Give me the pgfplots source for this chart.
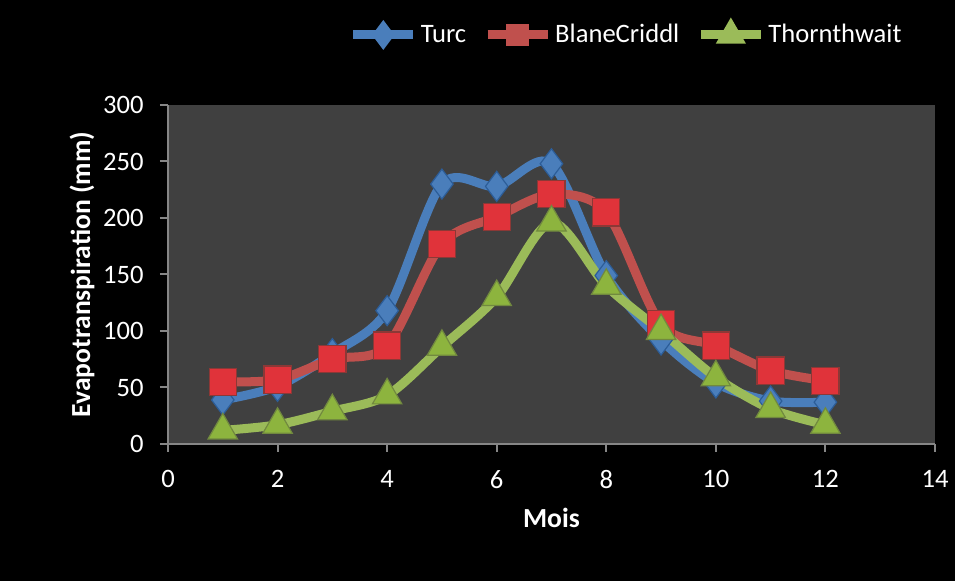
\documentclass[border=0pt]{standalone}
\usepackage{pgfplots}
\pgfplotsset{compat=1.18}
\usepackage{fontspec}
\setmainfont{Carlito}
\usetikzlibrary{plotmarks}

\definecolor{turc}{HTML}{4A7EBB}
\definecolor{turcdark}{HTML}{2C5D98}
\definecolor{blane}{HTML}{C0504D}
\definecolor{blanefill}{HTML}{E0333A}
\definecolor{blanedark}{HTML}{8C3836}
\definecolor{thorn}{HTML}{9BBB59}
\definecolor{thornfill}{HTML}{8DB43E}
\definecolor{thorndark}{HTML}{71893F}
\definecolor{plotbg}{HTML}{404040}
\definecolor{axisgray}{HTML}{868686}

\begin{document}
\begin{tikzpicture}
% black page: 955x581 px at 0.5pt per px, axis origin at px (168,444)
\fill[black] (-84pt,-68.5pt) rectangle (393.5pt,222pt);

\begin{axis}[
  at={(0,0)}, anchor=south west,
  scale only axis,
  width=383.5pt, height=169.5pt,
  xmin=0, xmax=14, ymin=0, ymax=300,
  xtick={0,2,...,14},
  ytick={0,50,...,300},
  axis lines=left,
  axis line style={-, draw=axisgray, line width=1pt},
  axis background/.style={fill=plotbg},
  tick align=outside,
  major tick length=4pt,
  tick style={draw=axisgray, line width=1pt},
  /pgf/number format/assume math mode=true,
  ticklabel style={font=\fontsize{13.3}{15}\selectfont, text=white},
  yticklabel style={inner sep=0pt, xshift=-8pt},
  xticklabel style={inner sep=0pt, yshift=-9pt},
  xlabel={\textcolor{white}{\bfseries Mois}},
  ylabel={\textcolor{white}{\bfseries Evapotranspiration (mm)}},
  x label style={at={(axis description cs:0.5,-0.218)}, anchor=center,
    font=\fontsize{13.8}{15}\selectfont},
  y label style={at={(axis description cs:-0.112,0.5)}, anchor=center,
    font=\fontsize{13.8}{15}\selectfont},
  legend columns=3,
  legend style={at={(axis description cs:0.598,1.2065)}, anchor=center,
    draw=none, fill=none, text=white,
    font=\fontsize{13.3}{15}\selectfont,
    nodes={inner xsep=1.5pt},
    /tikz/every even column/.append style={column sep=7pt}},
  legend image code/.code={
    \draw[#1, mark=none] (0pt,0pt) -- (30pt,0pt);
    \draw[#1, mark options={scale=0.5}, only marks] plot coordinates {(15pt,0pt)};
  },
  every axis plot/.append style={line width=4.5pt, smooth, tension=0.5},
]
\addplot[color=turc, mark=diamond*, mark size=7.5pt,
  mark options={solid, fill=turc, draw=turcdark, line width=0.6pt}]
  coordinates {(1,39) (2,51) (3,80) (4,118) (5,230) (6,228) (7,248) (8,149) (9,92) (10,54) (11,38) (12,37)};
\addlegendentry{Turc}

\addplot[color=blane, mark=square*, mark size=6.8pt,
  mark options={solid, fill=blanefill, draw=blanedark, line width=0.6pt}]
  coordinates {(1,55) (2,57) (3,75) (4,87) (5,177) (6,201) (7,221) (8,205) (9,106) (10,87) (11,65) (12,56)};
\addlegendentry{BlaneCriddl}

\addplot[color=thorn, mark=triangle*, mark size=8.5pt,
  mark options={solid, fill=thornfill, draw=thorndark, line width=0.6pt}]
  coordinates {(1,12) (2,17) (3,29) (4,43) (5,86) (6,130) (7,196) (8,140) (9,100) (10,59) (11,31) (12,17)};
\addlegendentry{Thornthwait}
\end{axis}
\end{tikzpicture}
\end{document}
